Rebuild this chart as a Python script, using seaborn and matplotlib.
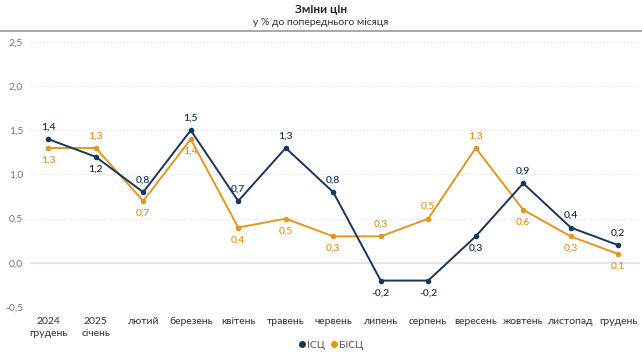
import matplotlib
matplotlib.use("Agg")
import matplotlib.pyplot as plt
import seaborn as sns
import pandas as pd
from matplotlib.lines import Line2D

# дані
months = ["2024\nгрудень", "2025\nсічень", "лютий", "березень", "квітень", "травень",
          "червень", "липень", "серпень", "вересень", "жовтень", "листопад", "грудень"]
icc = [1.4, 1.2, 0.8, 1.5, 0.7, 1.3, 0.8, -0.2, -0.2, 0.3, 0.9, 0.4, 0.2]
bicc = [1.3, 1.3, 0.7, 1.4, 0.4, 0.5, 0.3, 0.3, 0.5, 1.3, 0.6, 0.3, 0.1]
# положення підписів: 1 = над точкою, -1 = під точкою
icc_pos = [1, -1, 1, 1, 1, 1, 1, -1, -1, -1, 1, 1, 1]
bicc_pos = [-1, 1, -1, -1, -1, -1, -1, 1, 1, 1, -1, -1, -1]

navy = "#17365D"
orange = "#E5961E"

df = pd.DataFrame({"x": list(range(len(months))) * 2,
                   "v": icc + bicc,
                   "s": ["ІСЦ"] * len(icc) + ["БІСЦ"] * len(bicc)})

sns.set_style("white")
plt.rcParams["font.family"] = ["Lato", "DejaVu Sans"]

fig = plt.figure(figsize=(6.42, 3.55), dpi=100)
ax = fig.add_axes([0.047, 0.135, 0.95, 0.747])

sns.lineplot(data=df, x="x", y="v", hue="s", palette={"ІСЦ": navy, "БІСЦ": orange},
             hue_order=["БІСЦ", "ІСЦ"], marker="o", markersize=4, markeredgewidth=0,
             linewidth=1.4, legend=False, ax=ax)

for vals, pos, col in [(icc, icc_pos, navy), (bicc, bicc_pos, orange)]:
    for i, (v, p) in enumerate(zip(vals, pos)):
        ax.annotate(f"{v:.1f}".replace(".", ","), (i, v), xytext=(0, 5.5 * p),
                    textcoords="offset points", ha="center",
                    va="bottom" if p > 0 else "top", fontsize=7.5, color=col,
                    fontweight="semibold")

ax.set_ylim(-0.5, 2.5)
ax.set_xlim(-0.38, 12.46)
yt = [-0.5, 0, 0.5, 1.0, 1.5, 2.0, 2.5]
ax.set_yticks(yt)
ax.set_yticklabels([f"{t:.1f}".replace(".", ",") for t in yt], fontsize=7.5, color="#777777")
ax.set_xticks(range(len(months)))
ax.set_xticklabels(months, fontsize=7.5, color="#333333", linespacing=1.4)
ax.tick_params(axis="x", length=0, pad=7)
ax.tick_params(axis="y", length=0, pad=5)
ax.set_xlabel("")
ax.set_ylabel("")
for t in yt:
    if t == 0:
        ax.axhline(t, color="#dde3ea", lw=1.2, zorder=0)
    else:
        ax.axhline(t, color="#dddddd", lw=0.8, ls=(0, (1, 2)), zorder=0)
for sp in ax.spines.values():
    sp.set_visible(False)

fig.text(0.5, 0.972, "Зміни цін", ha="center", va="center", fontsize=8.5, fontweight="bold", color="#222222")
fig.text(0.5, 0.937, "у % до попереднього місяця", ha="center", va="center", fontsize=7.5, color="#333333")
fig.add_artist(Line2D([0.0, 1.0], [0.912, 0.912], color="#999999", lw=1.2))

handles = [Line2D([], [], marker="o", ls="", color=navy, markersize=4),
           Line2D([], [], marker="o", ls="", color=orange, markersize=4)]
fig.legend(handles, ["ІСЦ", "БІСЦ"], loc="center", bbox_to_anchor=(0.515, 0.028), ncol=2,
           frameon=False, fontsize=7.5, handletextpad=0.05, columnspacing=0.5,
           labelcolor="#555555", handlelength=0.8)

fig.savefig("out.png", dpi=100)
